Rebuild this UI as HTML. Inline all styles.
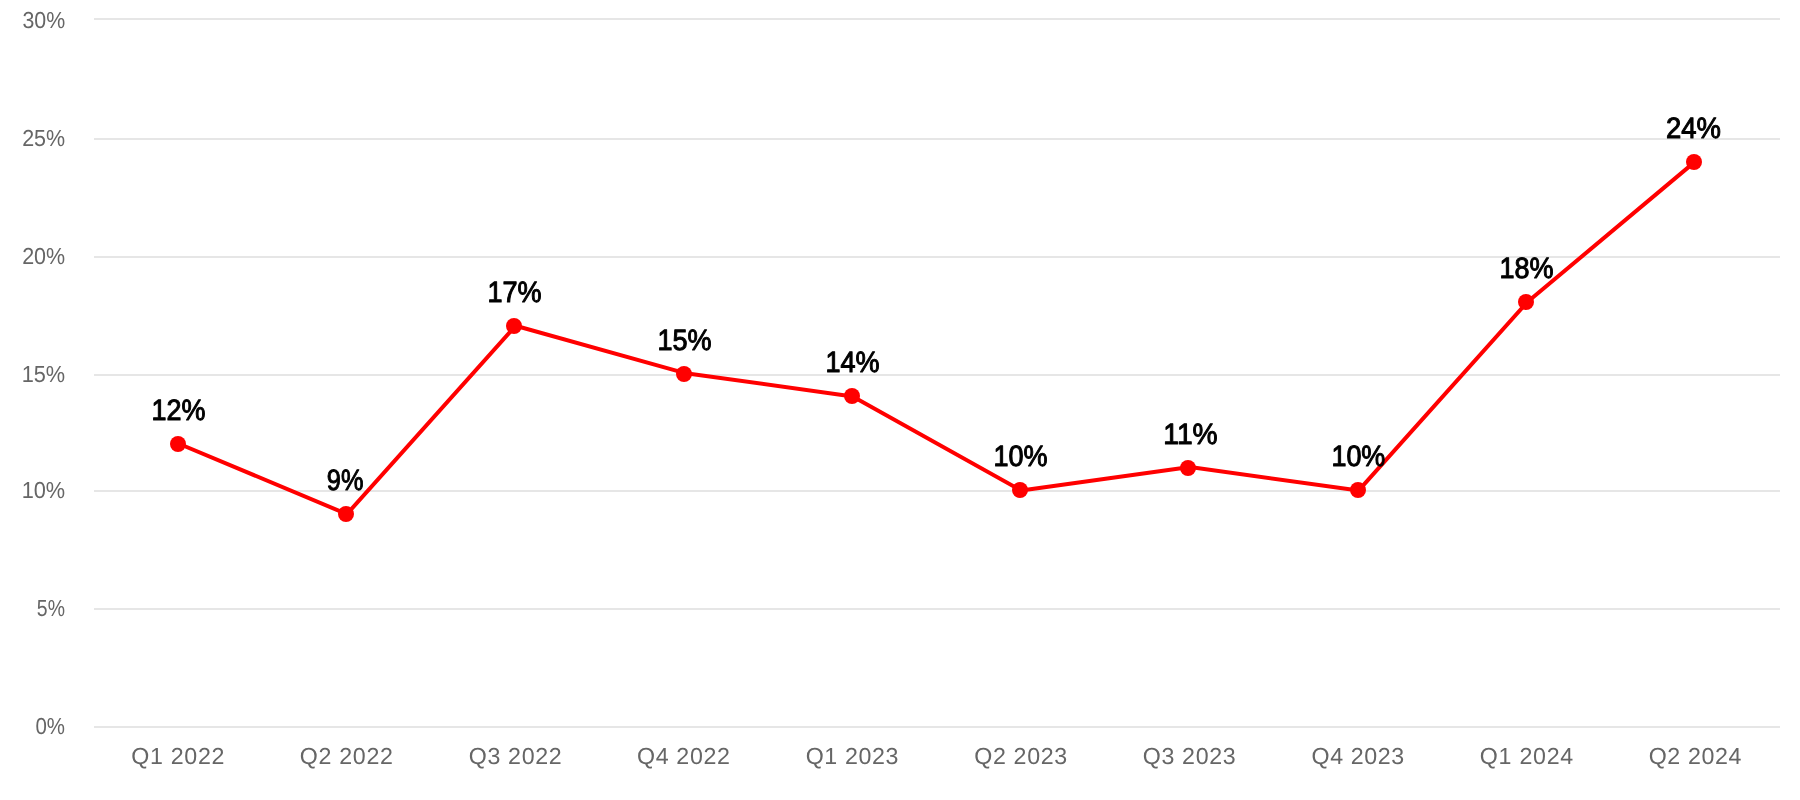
<!DOCTYPE html>
<html lang="en"><head><meta charset="utf-8"><title>Chart</title>
<style>
html,body{margin:0;padding:0;background:#fff;}
body{width:1800px;height:800px;overflow:hidden;}
svg{display:block;will-change:transform;}
text{font-family:"Liberation Sans",sans-serif;text-rendering:geometricPrecision;}
.ay{font-size:23.2px;fill:#666;}
.ax{font-size:23.2px;fill:#666;}
.dl{font-size:29.4px;fill:#000;font-weight:normal;stroke:#000;stroke-width:1.0;stroke-linejoin:round;}
</style></head><body>
<svg width="1800" height="800" viewBox="0 0 1800 800">
<rect x="0" y="0" width="1800" height="800" fill="#ffffff"/>
<g fill="#e6e6e6" shape-rendering="crispEdges">
<rect x="94" y="18" width="1686" height="2"/>
<rect x="94" y="138" width="1686" height="2"/>
<rect x="94" y="256" width="1686" height="2"/>
<rect x="94" y="374" width="1686" height="2"/>
<rect x="94" y="490" width="1686" height="2"/>
<rect x="94" y="608" width="1686" height="2"/>
<rect x="94" y="726" width="1686" height="2"/>
</g>
<g class="ay">
<text transform="translate(22.38,28) scale(0.9213,1)">30%</text>
<text transform="translate(22.14,146) scale(0.9266,1)">25%</text>
<text transform="translate(22.14,264) scale(0.9266,1)">20%</text>
<text transform="translate(21.66,382) scale(0.9371,1)">15%</text>
<text transform="translate(21.66,498) scale(0.9371,1)">10%</text>
<text transform="translate(36.86,616) scale(0.8378,1)">5%</text>
<text transform="translate(35.42,734) scale(0.8819,1)">0%</text>
</g>
<g class="ax">
<text x="131.30" y="764" letter-spacing="0.692">Q1 2022</text>
<text x="299.80" y="764" letter-spacing="0.692">Q2 2022</text>
<text x="468.70" y="764" letter-spacing="0.675">Q3 2022</text>
<text x="637.00" y="764" letter-spacing="0.658">Q4 2022</text>
<text x="805.70" y="764" letter-spacing="0.633">Q1 2023</text>
<text x="974.30" y="764" letter-spacing="0.650">Q2 2023</text>
<text x="1142.80" y="764" letter-spacing="0.650">Q3 2023</text>
<text x="1311.50" y="764" letter-spacing="0.633">Q4 2023</text>
<text x="1479.80" y="764" letter-spacing="0.742">Q1 2024</text>
<text x="1648.70" y="764" letter-spacing="0.642">Q2 2024</text>
</g>
<polyline fill="none" stroke="#ff0000" stroke-width="4" stroke-linejoin="round" stroke-linecap="round" points="178.3,443.5 346.9,514.1 515.5,325.8 684.1,372.9 852.7,396.4 1021.3,490.6 1189.9,467.0 1358.5,490.6 1527.1,302.3 1695.7,161.1"/>
<g fill="#ff0000">
<circle cx="178" cy="444" r="8"/>
<circle cx="346" cy="514" r="8"/>
<circle cx="514" cy="326" r="8"/>
<circle cx="684" cy="374" r="8"/>
<circle cx="852" cy="396" r="8"/>
<circle cx="1020" cy="490" r="8"/>
<circle cx="1188" cy="468" r="8"/>
<circle cx="1358" cy="490" r="8"/>
<circle cx="1526" cy="302" r="8"/>
<circle cx="1694" cy="162" r="8"/>
</g>
<g class="dl">
<text transform="translate(151.50,419.5) scale(0.9168,1)">12%</text>
<text transform="translate(326.84,489.5) scale(0.8610,1)">9%</text>
<text transform="translate(487.39,301.5) scale(0.9204,1)">17%</text>
<text transform="translate(657.39,349.5) scale(0.9204,1)">15%</text>
<text transform="translate(825.39,371.5) scale(0.9204,1)">14%</text>
<text transform="translate(993.39,465.5) scale(0.9204,1)">10%</text>
<text transform="translate(1163.32,443.5) scale(0.9585,1)">11%</text>
<text transform="translate(1331.40,465.5) scale(0.9168,1)">10%</text>
<text transform="translate(1499.39,277.5) scale(0.9204,1)">18%</text>
<text transform="translate(1666.07,137.5) scale(0.9345,1)">24%</text>
</g>
</svg>
</body></html>
